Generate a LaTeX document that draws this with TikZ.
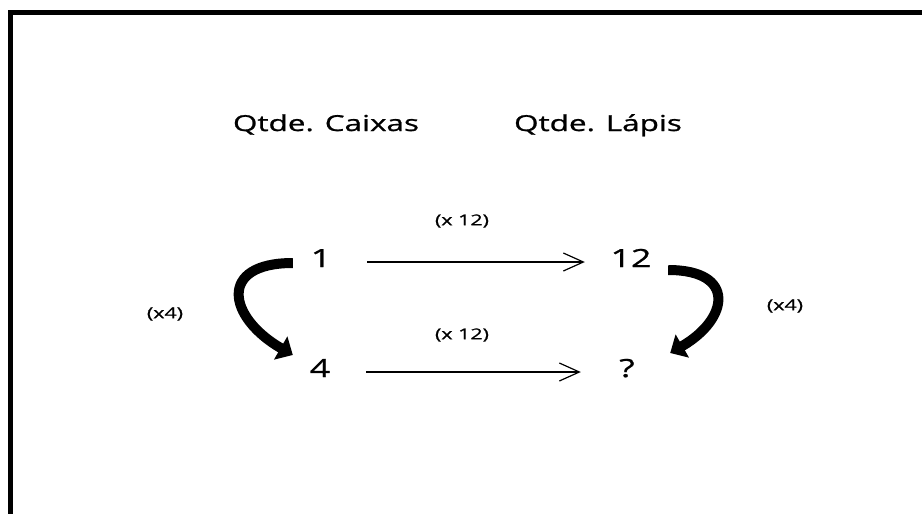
\documentclass[tikz,border=0pt]{standalone}
\usepackage{fontspec}
\setmainfont{Open Sans}[FakeStretch=1.43,FakeBold=1]
\usetikzlibrary{arrows.meta,positioning}

\begin{document}
\begin{tikzpicture}[x=1pt,y=-1pt,
    titulo/.style={font=\fontsize{22}{26}\selectfont, anchor=base, inner sep=0pt},
    numero/.style={font=\fontsize{25}{30}\selectfont, minimum width=92pt,
      text height=18pt, text depth=8pt, inner sep=0pt},
    rotulo/.style={font=\fontsize{15}{18}\selectfont, inner sep=0pt},
    seta/.style={line width=1.2pt, -{Straight Barb[length=20pt,width=18pt]}},
    setagrossa/.style={line width=10pt, -{Triangle[length=14pt,width=26pt]}, looseness=2.1}]
            \useasboundingbox (0,0) rectangle (922,514);
            % frame, left and top sides only
            \draw[line width=5pt] (10.5,514) |- (922,12.5);

            % column titles
            \node[titulo] (caixas) at (326,131) {Qtde. Caixas};
            \node[titulo] (lapis) at (598,131) {Qtde. Lápis};

            % quantities
            \node[numero] (one) at (321,262) {1};
            \node[numero] (twelve) at (631,262) {12};
            \node[numero] (four) at (320,372) {4};
            \node[numero] (qm) at (627,372) {?};

            % times 12 from boxes to pencils
            \draw[seta] (one.east) -- (twelve.west);
            \draw[seta] (four.east) -- (qm.west);
            \node[rotulo] (vezes1) at (462,221) {(x 12)};
            \node[rotulo] (vezes2) at (462,335) {(x 12)};

            % times 4 going down each column
            \draw[setagrossa] ([xshift=18pt,yshift=-1pt]one.west) to[out=180,in=150] ([xshift=19pt,yshift=17pt]four.west);
            \draw[setagrossa] ([xshift=-9pt,yshift=-8pt]twelve.east) to[out=0,in=30] ([xshift=-3pt,yshift=19pt]qm.east);
            \node[rotulo] (quatro1) at (165,314) {(x4)};
            \node[rotulo] (quatro2) at (785,306) {(x4)};
\end{tikzpicture}
\end{document}
